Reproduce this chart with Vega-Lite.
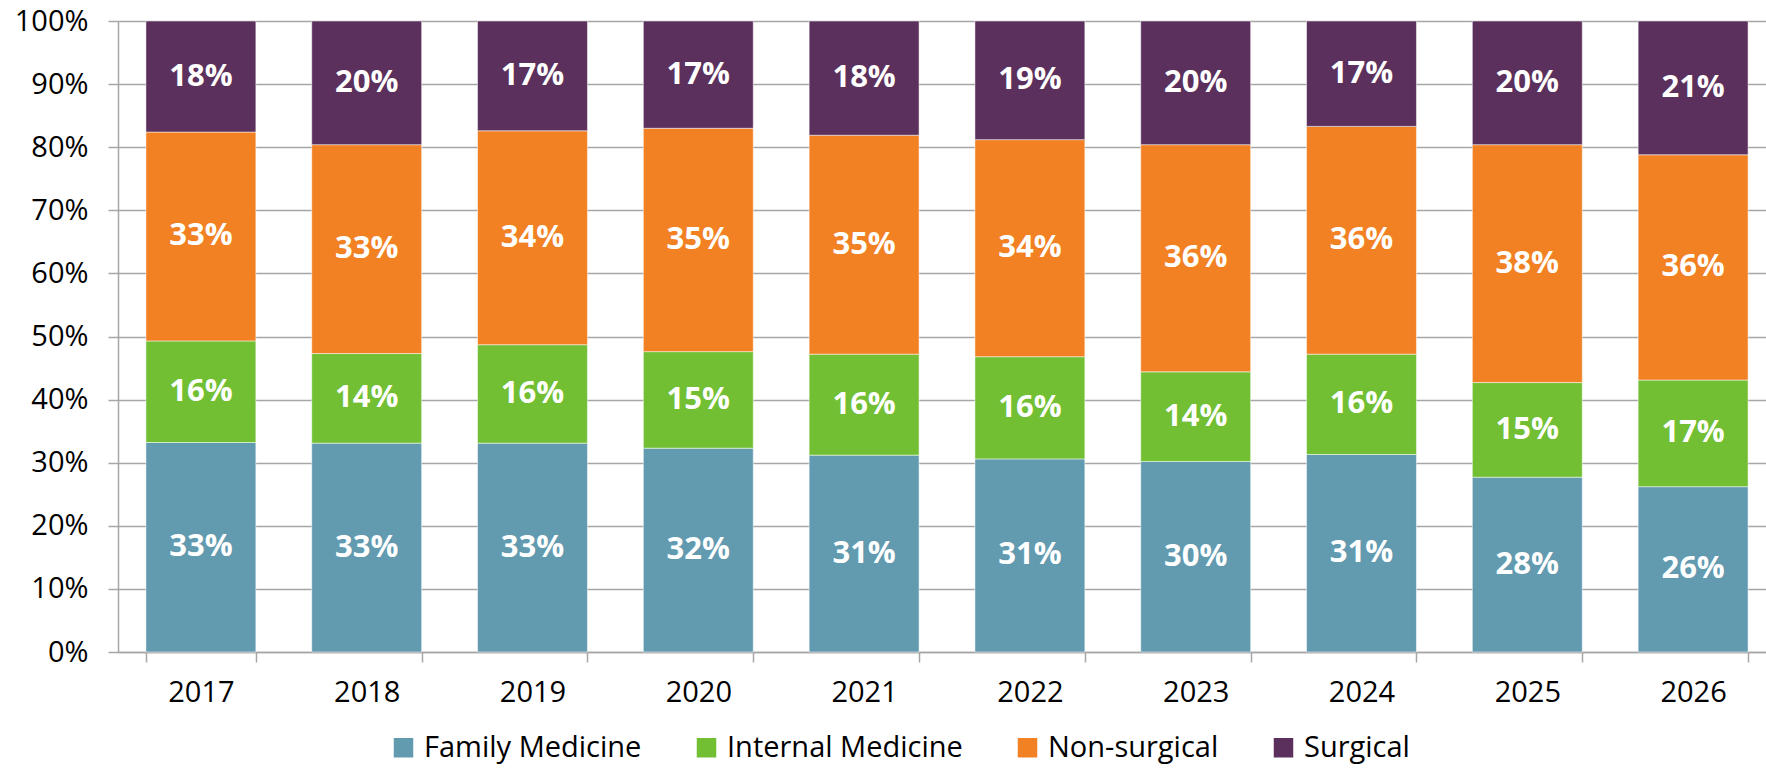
{
  "$schema": "https://vega.github.io/schema/vega-lite/v6.json",
  "autosize": {"type": "none"},
  "padding": {"left": 118, "top": 21, "right": 0, "bottom": 116},
  "width": 1648,
  "height": 631,
  "background": "#ffffff",
  "config": {
    "view": {"stroke": null},
    "font": "Open Sans"
  },
  "data": {
    "values": [
      {"year": "2017", "series": "Family Medicine", "value": 0.332},
      {"year": "2017", "series": "Internal Medicine", "value": 0.161},
      {"year": "2017", "series": "Non-surgical", "value": 0.331},
      {"year": "2017", "series": "Surgical", "value": 0.176},
      {"year": "2018", "series": "Family Medicine", "value": 0.331},
      {"year": "2018", "series": "Internal Medicine", "value": 0.142},
      {"year": "2018", "series": "Non-surgical", "value": 0.331},
      {"year": "2018", "series": "Surgical", "value": 0.196},
      {"year": "2019", "series": "Family Medicine", "value": 0.331},
      {"year": "2019", "series": "Internal Medicine", "value": 0.156},
      {"year": "2019", "series": "Non-surgical", "value": 0.339},
      {"year": "2019", "series": "Surgical", "value": 0.174},
      {"year": "2020", "series": "Family Medicine", "value": 0.323},
      {"year": "2020", "series": "Internal Medicine", "value": 0.153},
      {"year": "2020", "series": "Non-surgical", "value": 0.354},
      {"year": "2020", "series": "Surgical", "value": 0.170},
      {"year": "2021", "series": "Family Medicine", "value": 0.312},
      {"year": "2021", "series": "Internal Medicine", "value": 0.160},
      {"year": "2021", "series": "Non-surgical", "value": 0.347},
      {"year": "2021", "series": "Surgical", "value": 0.181},
      {"year": "2022", "series": "Family Medicine", "value": 0.306},
      {"year": "2022", "series": "Internal Medicine", "value": 0.162},
      {"year": "2022", "series": "Non-surgical", "value": 0.344},
      {"year": "2022", "series": "Surgical", "value": 0.188},
      {"year": "2023", "series": "Family Medicine", "value": 0.302},
      {"year": "2023", "series": "Internal Medicine", "value": 0.142},
      {"year": "2023", "series": "Non-surgical", "value": 0.360},
      {"year": "2023", "series": "Surgical", "value": 0.196},
      {"year": "2024", "series": "Family Medicine", "value": 0.313},
      {"year": "2024", "series": "Internal Medicine", "value": 0.159},
      {"year": "2024", "series": "Non-surgical", "value": 0.361},
      {"year": "2024", "series": "Surgical", "value": 0.167},
      {"year": "2025", "series": "Family Medicine", "value": 0.277},
      {"year": "2025", "series": "Internal Medicine", "value": 0.150},
      {"year": "2025", "series": "Non-surgical", "value": 0.377},
      {"year": "2025", "series": "Surgical", "value": 0.196},
      {"year": "2026", "series": "Family Medicine", "value": 0.262},
      {"year": "2026", "series": "Internal Medicine", "value": 0.169},
      {"year": "2026", "series": "Non-surgical", "value": 0.357},
      {"year": "2026", "series": "Surgical", "value": 0.212}
    ]
  },
  "encoding": {
    "x": {
      "field": "year",
      "type": "nominal",
      "title": null,
      "scale": {"range": [0, 1658], "paddingInner": 0.337, "paddingOuter": 0.1685},
      "axis": {
        "labelAngle": 0,
        "labelFont": "Open Sans",
        "labelFontSize": 29,
        "labelColor": "#000000",
        "labelPadding": 16,
        "tickBand": "extent",
        "tickSize": 10,
        "tickColor": "#A6A6A6",
        "tickWidth": 1.5,
        "domainColor": "#A6A6A6",
        "domainWidth": 1.5,
        "grid": false
      }
    }
  },
  "layer": [
    {
      "mark": {"type": "bar", "stroke": "#ffffff", "strokeWidth": 1, "strokeOpacity": 0.5},
      "encoding": {
        "y": {
          "field": "value",
          "type": "quantitative",
          "stack": "zero",
          "title": null,
          "scale": {"domain": [0, 1], "nice": false},
          "axis": {
            "values": [0, 0.1, 0.2, 0.3, 0.4, 0.5, 0.6, 0.7, 0.8, 0.9, 1],
            "format": ".0%",
            "labelFont": "Open Sans",
            "labelFontSize": 29,
            "labelColor": "#000000",
            "labelPadding": 20,
            "tickSize": 10,
            "tickColor": "#A6A6A6",
            "tickWidth": 1.5,
            "domainColor": "#A6A6A6",
            "domainWidth": 1.5,
            "grid": true,
            "gridColor": "#A6A6A6",
            "gridWidth": 1.5
          }
        },
        "order": {"field": "series", "sort": "ascending"},
        "color": {
          "field": "series",
          "type": "nominal",
          "scale": {
            "domain": ["Family Medicine", "Internal Medicine", "Non-surgical", "Surgical"],
            "range": ["#629AB0", "#72BF34", "#F28123", "#5B305C"]
          },
          "legend": {
            "title": null,
            "orient": "none",
            "direction": "horizontal",
            "legendX": 271,
            "legendY": 712,
            "symbolType": "square",
            "symbolSize": 380,
            "symbolStrokeWidth": 0,
            "labelFont": "Open Sans",
            "labelFontSize": 29,
            "labelColor": "#000000",
            "labelOffset": 6,
            "columnPadding": 50,
            "labelLimit": 400
          }
        }
      }
    },
    {
      "transform": [
        {"stack": "value", "groupby": ["year"], "sort": [{"field": "series", "order": "ascending"}], "as": ["v0", "v1"]},
        {"fold": ["v0", "v1"], "as": ["edge", "pos"]},
        {"aggregate": [{"op": "mean", "field": "pos", "as": "mid"}], "groupby": ["year", "series", "value"]}
      ],
      "mark": {"type": "text", "font": "Open Sans", "fontWeight": "bold", "fontSize": 31, "color": "#ffffff", "baseline": "middle", "align": "center"},
      "encoding": {
        "y": {"field": "mid", "type": "quantitative"},
        "text": {"field": "value", "type": "quantitative", "format": ".0%"}
      }
    }
  ]
}
